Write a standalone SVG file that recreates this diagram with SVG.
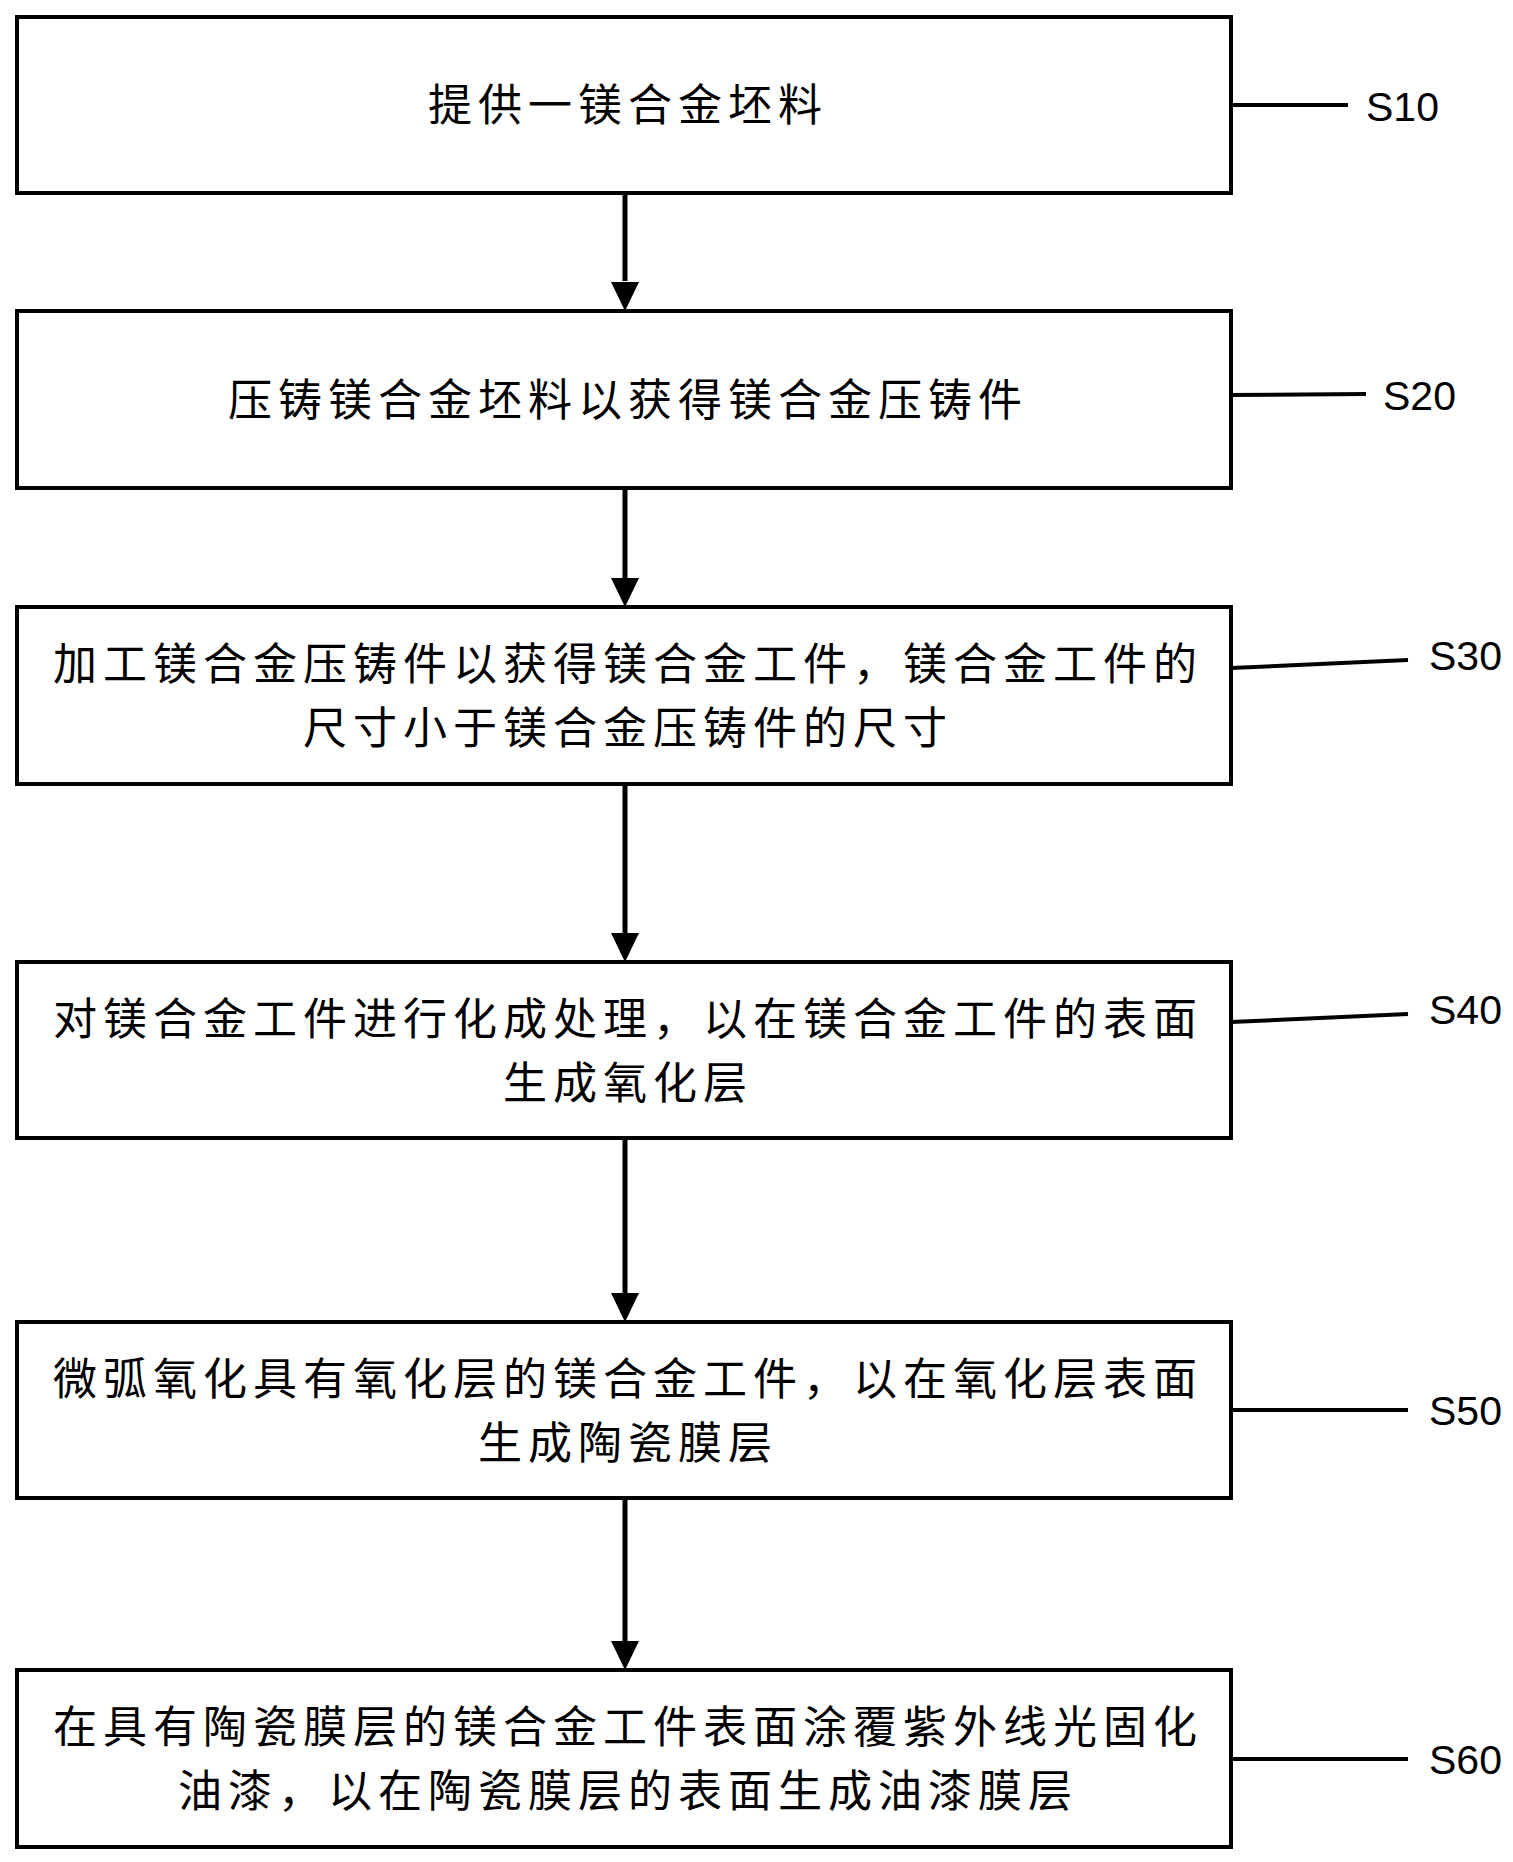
<svg xmlns="http://www.w3.org/2000/svg" width="1513" height="1862" viewBox="0 0 1513 1862">
<style>
.box{fill:#fff;stroke:#000;stroke-width:4}
.t{font-family:"Noto Sans CJK SC","Noto Sans",sans-serif;font-size:44px;letter-spacing:6px;text-anchor:middle;fill:#000}
.lbl{font-family:"Liberation Sans",Arial,sans-serif;font-size:41px;fill:#000}
.lead{stroke:#000;stroke-width:4;fill:none}
.shaft{stroke:#000;stroke-width:5;fill:none}
</style>
<rect width="1513" height="1862" fill="#fff"/>
<g id="connectors">
<path class="shaft" d="M625,193 L625,281"/>
<path d="M611,282 L639,282 L625,311 Z" fill="#000"/>
<path class="shaft" d="M625,488 L625,578"/>
<path d="M611,578 L639,578 L625,607 Z" fill="#000"/>
<path class="shaft" d="M625,784 L625,933"/>
<path d="M611,933 L639,933 L625,962 Z" fill="#000"/>
<path class="shaft" d="M625,1138 L625,1293"/>
<path d="M611,1293 L639,1293 L625,1322 Z" fill="#000"/>
<path class="shaft" d="M625,1498 L625,1641"/>
<path d="M611,1641 L639,1641 L625,1670 Z" fill="#000"/>
<path class="lead" d="M1231,105 L1348,105"/>
<path class="lead" d="M1231,395 L1366,394"/>
<path class="lead" d="M1231,668 L1408,660"/>
<path class="lead" d="M1231,1022 L1408,1014"/>
<path class="lead" d="M1231,1410 L1408,1410"/>
<path class="lead" d="M1231,1759 L1408,1759"/>
</g>
<g id="S10">
<rect class="box" x="17" y="17" width="1214" height="176"/>
<text class="t" x="628" y="121">提供一镁合金坯料</text>
<text class="lbl" x="1366" y="121">S10</text>
</g>
<g id="S20">
<rect class="box" x="17" y="311" width="1214" height="177"/>
<text class="t" x="628" y="416">压铸镁合金坯料以获得镁合金压铸件</text>
<text class="lbl" x="1383" y="410">S20</text>
</g>
<g id="S30">
<rect class="box" x="17" y="607" width="1214" height="177"/>
<text class="t" x="628" y="680">加工镁合金压铸件以获得镁合金工件，镁合金工件的</text>
<text class="t" x="628" y="744">尺寸小于镁合金压铸件的尺寸</text>
<text class="lbl" x="1429" y="670">S30</text>
</g>
<g id="S40">
<rect class="box" x="17" y="962" width="1214" height="176"/>
<text class="t" x="628" y="1035">对镁合金工件进行化成处理，以在镁合金工件的表面</text>
<text class="t" x="628" y="1099">生成氧化层</text>
<text class="lbl" x="1429" y="1024">S40</text>
</g>
<g id="S50">
<rect class="box" x="17" y="1322" width="1214" height="176"/>
<text class="t" x="628" y="1395">微弧氧化具有氧化层的镁合金工件，以在氧化层表面</text>
<text class="t" x="628" y="1459">生成陶瓷膜层</text>
<text class="lbl" x="1429" y="1425">S50</text>
</g>
<g id="S60">
<rect class="box" x="17" y="1670" width="1214" height="177"/>
<text class="t" x="628" y="1743">在具有陶瓷膜层的镁合金工件表面涂覆紫外线光固化</text>
<text class="t" x="628" y="1807">油漆，以在陶瓷膜层的表面生成油漆膜层</text>
<text class="lbl" x="1429" y="1774">S60</text>
</g>
</svg>
